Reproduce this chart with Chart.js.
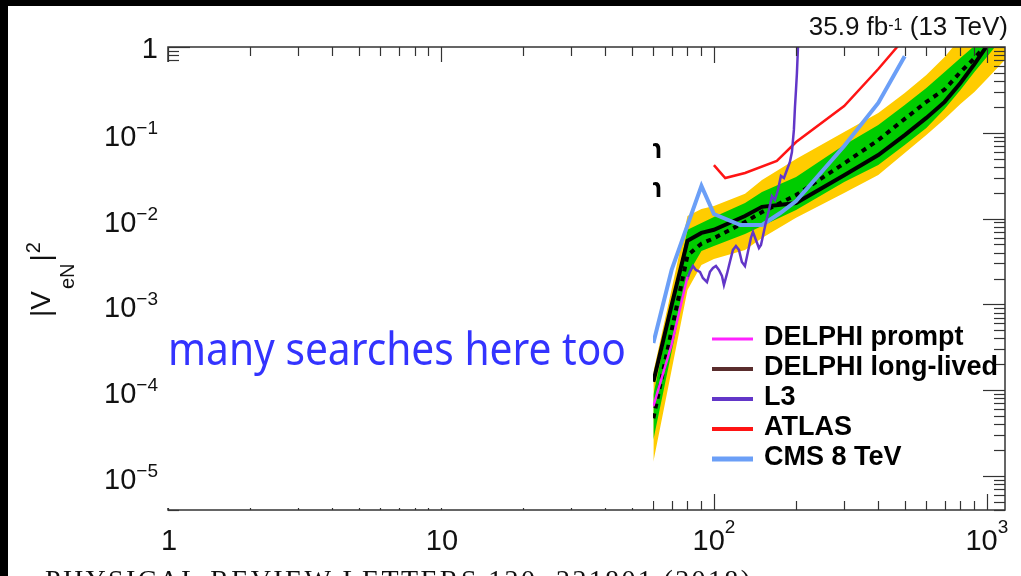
<!DOCTYPE html>
<html>
<head>
<meta charset="utf-8">
<script src="https://cdn.jsdelivr.net/npm/chart.js@4/dist/chart.umd.min.js"></script>
<style>
  html, body { margin: 0; padding: 0; background: #fff; }
  #wrap { width: 1021px; height: 576px; position: relative; }
</style>
</head>
<body>
<div id="wrap"><canvas id="c"></canvas></div>
<script>
// Heavy neutral lepton mass points (GeV) for the CMS 13 TeV limits
const massGrid = [60, 70, 80, 90, 100, 130, 150, 200, 300, 400, 500, 600, 700, 800, 900, 1000];
const bandMass = [60, 70, 80, 90, 100, 130, 150, 200, 300, 400, 500, 600, 700, 800, 900, 1000, 1200];

// 95% CL upper limits on |V_eN|^2
const observedLimit = [1.25e-4, 9.8e-4, 5.5e-3, 6.8e-3, 7.4e-3, 1.07e-2, 1.37e-2, 1.52e-2, 3.2e-2, 5.5e-2, 9.4e-2, 0.149, 0.229, 0.38, 0.63, 1.03];
const expectedLimit = [4.7e-5, 5.0e-4, 3.7e-3, 5.1e-3, 5.9e-3, 9.1e-3, 1.19e-2, 1.88e-2, 4.4e-2, 8.2e-2, 0.145, 0.229, 0.32, 0.51, 0.74, 1.08];
const oneSigmaHigh = [8.8e-5, 9.3e-4, 7.4e-3, 8.9e-3, 1.04e-2, 1.52e-2, 2.04e-2, 3.05e-2, 7.2e-2, 0.123, 0.211, 0.333, 0.511, 0.744, 1.03, 1.38, 2.36];
const oneSigmaLow = [2.63e-5, 2.79e-4, 2.2e-3, 4.19e-3, 4.79e-3, 6.61e-3, 8.2e-3, 1.26e-2, 2.67e-2, 4.21e-2, 7.21e-2, 0.114, 0.189, 0.315, 0.511, 0.765, 1.58];
const twoSigmaHigh = [1.63e-4, 1.51e-3, 1.07e-2, 1.29e-2, 1.40e-2, 1.94e-2, 2.82e-2, 4.95e-2, 0.102, 0.170, 0.291, 0.472, 0.765, 1.27, 1.96, 2.85, 5.28];
const twoSigmaLow = [1.46e-5, 1.72e-4, 1.47e-3, 2.88e-3, 3.38e-3, 4.31e-3, 5.94e-3, 1.02e-2, 1.99e-2, 3.22e-2, 5.81e-2, 9.43e-2, 0.145, 0.217, 0.299, 0.424, 0.785];

// Earlier searches
const delphiPromptMass = [60, 70, 80];
const delphiPromptLimit = [6.5e-5, 3.4e-4, 2.1e-3];
const delphiLongMass = [];
const delphiLongLimit = [];
const l3Mass = [79.6, 81.7, 83.8, 85.9, 88.9, 91.1, 94.3, 96.7, 99.2, 101.7, 104.3, 107.0, 108.8, 111.6, 114.4, 117.4, 120.4, 123.5, 126.6, 129.9, 133.2, 136.6, 139.0, 142.5, 146.2, 148.7, 151.2, 155.1, 159.1, 163.1, 167.3, 171.6, 176.0, 180.5, 185.1, 189.8, 193.1, 196.3, 198.1, 199.8, 201.4, 203.2, 204.9];
const l3Limit = [1.92e-3, 2.39e-3, 2.80e-3, 2.52e-3, 2.39e-3, 2.03e-3, 1.82e-3, 2.39e-3, 2.66e-3, 2.80e-3, 2.52e-3, 2.14e-3, 1.68e-3, 2.26e-3, 3.12e-3, 4.31e-3, 4.79e-3, 4.31e-3, 3.12e-3, 2.80e-3, 4.08e-3, 5.94e-3, 6.98e-3, 5.63e-3, 4.54e-3, 4.92e-3, 6.27e-3, 9.13e-3, 1.26e-2, 1.83e-2, 1.65e-2, 2.15e-2, 3.14e-2, 2.97e-2, 3.68e-2, 4.57e-2, 5.97e-2, 0.108, 0.200, 0.315, 0.498, 1.0, 2.06];
const atlasMass = [100, 110, 130, 170, 200, 300, 400, 500];
const atlasLimit = [4.2e-2, 2.97e-2, 3.4e-2, 4.7e-2, 7.8e-2, 0.205, 0.554, 1.27];
const cms8Mass = [60, 70, 90, 100, 125, 150, 175, 200, 300, 400, 500];
const cms8Limit = [3.55e-4, 2.52e-3, 2.40e-2, 1.13e-2, 8.4e-3, 8.4e-3, 1.16e-2, 1.6e-2, 7.0e-2, 0.2225, 0.78];

// Axis ticks and labels
const xTickValues = [1, 10, 100, 1000];
const xTickLabels = [['1', ''], ['10', ''], ['10', '2'], ['10', '3']];
const yTickValues = [1, 0.1, 0.01, 0.001, 1e-4, 1e-5];
const yTickLabels = [['1', ''], ['10', '\u22121'], ['10', '\u22122'], ['10', '\u22123'], ['10', '\u22124'], ['10', '\u22125']];

const legendOrder = ['DELPHI prompt', 'DELPHI long-lived', 'L3', 'ATLAS', 'CMS 8 TeV'];
const bandLabels = ['Expected \u00b1 1 std. deviation', 'Expected \u00b1 2 std. deviation'];
const noteText = 'many searches here too';
const lumiText = ['35.9 fb', '-1', ' (13 TeV)'];
const journalText = 'PHYSICAL REVIEW LETTERS 120, 221801 (2018)';

const FONT = "'Liberation Sans', Arial, Helvetica, sans-serif";
const pts = (xs, ys) => xs.map((x, i) => ({ x: x, y: ys[i] }));

function supText(ctx, base, exp, x, y, align, baseFont, supFont, rise) {
  ctx.font = baseFont;
  const wb = ctx.measureText(base).width;
  ctx.font = supFont;
  const we = exp ? ctx.measureText(exp).width : 0;
  const total = wb + we;
  const x0 = align === 'right' ? x - total : (align === 'center' ? x - total / 2 : x);
  ctx.textAlign = 'left';
  ctx.font = baseFont;
  ctx.fillText(base, x0, y);
  if (exp) {
    ctx.font = supFont;
    ctx.fillText(exp, x0 + wb, y - rise);
  }
}

function seg(ctx, x1, y1, x2, y2) {
  ctx.beginPath();
  ctx.moveTo(x1, y1);
  ctx.lineTo(x2, y2);
  ctx.stroke();
}

const decor = {
  id: 'decor',
  beforeDraw(chart) {
    const ctx = chart.ctx;
    ctx.save();
    ctx.fillStyle = '#ffffff';
    ctx.fillRect(0, 0, chart.width, chart.height);
    ctx.restore();
  },
  afterDatasetsDraw(chart) {
    const ctx = chart.ctx;
    const a = chart.chartArea;
    const xs = chart.scales.x, ys = chart.scales.y;
    ctx.save();
    ctx.textBaseline = 'alphabetic';

    // band legend entries of the left column
    ctx.fillStyle = '#000';
    ctx.font = 'bold 27px ' + FONT;
    ctx.textAlign = 'right';
    ctx.fillText(bandLabels[0], 662, 158);
    ctx.fillText(bandLabels[1], 662, 197);

    // frame
    ctx.strokeStyle = '#333';
    ctx.lineWidth = 1.5;
    ctx.strokeRect(a.left, a.top, a.right - a.left, a.bottom - a.top);

    // ticks, drawn inside the frame
    ctx.lineWidth = 1.2;
    for (let d = 0; d <= 3; d++) {
      for (let k = 1; k <= 9; k++) {
        const v = k * Math.pow(10, d);
        if (v > xs.max) break;
        const px = Math.round(xs.getPixelForValue(v)) + 0.5;
        const len = k === 1 ? 16 : 9;
        seg(ctx, px, a.bottom, px, a.bottom - len);
        seg(ctx, px, a.top, px, a.top + len);
      }
    }
    for (let d = -6; d <= 0; d++) {
      for (let k = 1; k <= 9; k++) {
        const v = k * Math.pow(10, d);
        if (v < ys.min || v > ys.max * 1.0001) continue;
        const py = Math.round(ys.getPixelForValue(v)) + 0.5;
        const len = k === 1 ? 22 : 11;
        seg(ctx, a.left, py, a.left + len, py);
        seg(ctx, a.right, py, a.right - len, py);
      }
    }

    // note panel over the low-mass region
    ctx.fillStyle = '#ffffff';
    ctx.fillRect(160, 62, 653 - 160, 508 - 62);

    // black edges
    ctx.fillStyle = '#000';
    ctx.fillRect(0, 0, chart.width, 6);
    ctx.fillRect(0, 0, 8, chart.height);

    // tick labels
    ctx.fillStyle = '#111';
    yTickValues.forEach((v, i) => {
      const py = ys.getPixelForValue(v);
      const [b, e] = yTickLabels[i];
      supText(ctx, b, e, 158, py + (e ? 13 : 11), 'right', '29px ' + FONT, '19px ' + FONT, 12);
    });
    xTickValues.forEach((v, i) => {
      const px = xs.getPixelForValue(v);
      const [b, e] = xTickLabels[i];
      supText(ctx, b, e, px + (e ? 0 : 1), 550, 'center', '29px ' + FONT, '19px ' + FONT, 17);
    });

    // y-axis title |V_eN|^2
    ctx.save();
    ctx.translate(50, 317);
    ctx.rotate(-Math.PI / 2);
    ctx.textAlign = 'left';
    ctx.font = '28px ' + FONT;
    let w = ctx.measureText('|V').width;
    ctx.fillText('|V', 0, 0);
    ctx.font = '20px ' + FONT;
    ctx.fillText('eN', w + 2, 24);
    w += 2 + ctx.measureText('eN').width + 2;
    ctx.font = '28px ' + FONT;
    ctx.fillText('|', w, 0);
    w += ctx.measureText('|').width + 1;
    ctx.font = '20px ' + FONT;
    ctx.fillText('2', w, -10);
    ctx.restore();

    // luminosity header
    ctx.font = '26px ' + FONT;
    const w1 = ctx.measureText(lumiText[0]).width;
    const w3 = ctx.measureText(lumiText[2]).width;
    ctx.font = '16px ' + FONT;
    const w2 = ctx.measureText(lumiText[1]).width;
    let hx = 1008 - (w1 + w2 + w3);
    ctx.textAlign = 'left';
    ctx.font = '26px ' + FONT;
    ctx.fillText(lumiText[0], hx, 35);
    ctx.font = '16px ' + FONT;
    ctx.fillText(lumiText[1], hx + w1, 30);
    ctx.font = '26px ' + FONT;
    ctx.fillText(lumiText[2], hx + w1 + w2, 35);

    // legend of the earlier searches
    legendOrder.forEach((name, i) => {
      const ds = chart.data.datasets.find(d => d.label === name);
      const base = 345 + i * 30;
      ctx.strokeStyle = ds.borderColor;
      ctx.lineWidth = ds.legendWidth;
      seg(ctx, 712, base - 6, 753, base - 6);
      ctx.fillStyle = '#000';
      ctx.font = 'bold 27px ' + FONT;
      ctx.fillText(name, 764, base);
    });

    // note
    ctx.fillStyle = '#3333ff';
    ctx.font = '46px "Noto Sans", "Open Sans", sans-serif';
    ctx.fillText(noteText, 168, 365, 458);

    // journal line at the bottom, spaced out
    ctx.fillStyle = '#111';
    ctx.font = '28px "Liberation Serif", "Times New Roman", serif';
    const natural = ctx.measureText(journalText).width;
    const spacing = Math.max(0, (705 - natural) / (journalText.length - 1));
    let jx = 45;
    for (const ch of journalText) {
      ctx.fillText(ch, jx, 589);
      jx += ctx.measureText(ch).width + spacing;
    }

    ctx.restore();
  }
};

const line = (label, xs, ys, color, width, order, extra) => Object.assign({
  label: label,
  data: pts(xs, ys),
  borderColor: color,
  backgroundColor: color,
  borderWidth: width,
  legendWidth: width,
  fill: false,
  order: order,
  clip: 0,
  tension: 0
}, extra || {});

new Chart(document.getElementById('c'), {
  type: 'line',
  data: {
    datasets: [
      line('DELPHI prompt', delphiPromptMass, delphiPromptLimit, '#ff22ff', 2.5, 1, { legendWidth: 3 }),
      line('DELPHI long-lived', delphiLongMass, delphiLongLimit, '#5a2d2d', 4, 2),
      line('L3', l3Mass, l3Limit, '#6236c8', 2.5, 3, { legendWidth: 4 }),
      line('ATLAS', atlasMass, atlasLimit, '#ff1414', 2.5, 4, { legendWidth: 4 }),
      line('CMS 8 TeV', cms8Mass, cms8Limit, '#6b9ff7', 4, 5, { legendWidth: 5 }),
      line('Observed', massGrid, observedLimit, '#000000', 4, 6),
      line('Expected', massGrid, expectedLimit, '#000000', 4, 7, { borderDash: [5, 5] }),
      line(bandLabels[0], bandMass, oneSigmaHigh, '#00cc00', 0, 8, { fill: '+1', backgroundColor: '#00cc00' }),
      line('1 s.d. low', bandMass, oneSigmaLow, '#00cc00', 0, 8),
      line(bandLabels[1], bandMass, twoSigmaHigh, '#ffcc00', 0, 9, { fill: '+1', backgroundColor: '#ffcc00' }),
      line('2 s.d. low', bandMass, twoSigmaLow, '#ffcc00', 0, 9)
    ]
  },
  options: {
    responsive: true,
    maintainAspectRatio: false,
    animation: false,
    events: [],
    layout: { padding: { left: 168, right: 16, top: 47, bottom: 66 } },
    elements: { point: { radius: 0, hoverRadius: 0 }, line: { borderCapStyle: 'butt', borderJoinStyle: 'miter' } },
    scales: {
      x: { type: 'logarithmic', min: 1, max: 1165, display: false },
      y: { type: 'logarithmic', min: 4e-6, max: 1, display: false }
    },
    plugins: {
      legend: { display: false },
      tooltip: { enabled: false },
      title: { display: false }
    }
  },
  plugins: [decor]
});
</script>
</body>
</html>
